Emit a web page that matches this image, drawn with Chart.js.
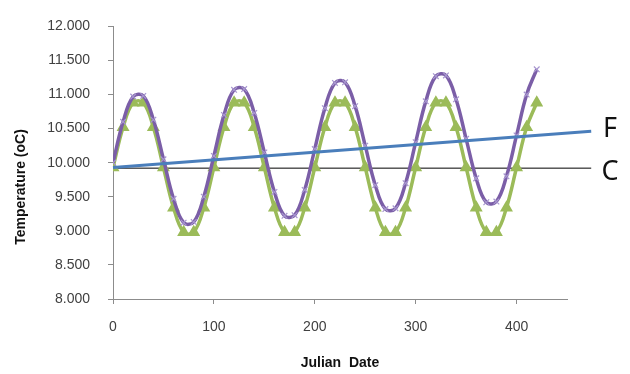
<!DOCTYPE html>
<html>
<head>
<meta charset="utf-8">
<script src="https://cdn.jsdelivr.net/npm/chart.js@4.4.1/dist/chart.umd.min.js"></script>
<style>
  html, body { margin: 0; padding: 0; background: #fff; }
  #wrap { width: 630px; height: 374px; position: relative; }
</style>
</head>
<body>
<div id="wrap"><canvas id="chart"></canvas></div>
<script>
// Julian dates of the samples
const days = [0, 10, 20, 30, 40, 50, 60, 70, 80, 90,
              100, 110, 120, 130, 140, 150, 160, 170, 180, 190,
              200, 210, 220, 230, 240, 250, 260, 270, 280, 290,
              300, 310, 320, 330, 340, 350, 360, 370, 380, 390,
              400, 410, 420];
// purple series (with warming trend)
const tempF = [10.00, 10.60, 10.97, 10.98, 10.63, 10.05, 9.47, 9.12, 9.13, 9.50,
               10.10, 10.70, 11.07, 11.08, 10.73, 10.15, 9.57, 9.22, 9.23, 9.60,
               10.20, 10.80, 11.17, 11.18, 10.83, 10.25, 9.67, 9.32, 9.33, 9.70,
               10.30, 10.90, 11.27, 11.28, 10.93, 10.35, 9.77, 9.42, 9.43, 9.80,
               10.40, 11.00, 11.37];
// green series (constant mean)
const tempC = [9.93, 10.52, 10.88, 10.88, 10.52, 9.93, 9.34, 8.98, 8.98, 9.34,
               9.93, 10.52, 10.88, 10.88, 10.52, 9.93, 9.34, 8.98, 8.98, 9.34,
               9.93, 10.52, 10.88, 10.88, 10.52, 9.93, 9.34, 8.98, 8.98, 9.34,
               9.93, 10.52, 10.88, 10.88, 10.52, 9.93, 9.34, 8.98, 8.98, 9.34,
               9.93, 10.52, 10.88];
// straight reference lines F and C
const lineDays = [0, 474];
const lineF = [9.93, 10.46];
const lineC = [9.92, 9.92];

const xTicks = [0, 100, 200, 300, 400];
const yTicks = [8, 8.5, 9, 9.5, 10, 10.5, 11, 11.5, 12];

const pts = (xs, ys) => xs.map((x, i) => ({ x: x, y: ys[i] }));

const labelPlugin = {
    id: 'sideLabels',
    afterDraw(chart) {
        const ctx = chart.ctx;
        const y = chart.scales.y;
        ctx.save();
        ctx.fillStyle = '#111';
        ctx.font = '27px "Noto Sans"';
        ctx.textAlign = 'center';
        ctx.textBaseline = 'middle';
        ctx.fillText('F', 610, y.getPixelForValue(lineF[1]) - 2);
        ctx.fillText('C', 610, y.getPixelForValue(lineC[1]) + 4);
        // y axis title
        ctx.font = 'bold 14px "Liberation Sans"';
        ctx.translate(21, 187);
        ctx.rotate(-Math.PI / 2);
        ctx.fillText('Temperature (oC)', 0, 0);
        ctx.restore();
    }
};

const tickColor = '#404040';
const axisColor = '#8c8c8c';

new Chart(document.getElementById('chart').getContext('2d'), {
    type: 'line',
    data: {
        datasets: [
            {
                label: 'F',
                data: pts(lineDays, lineF),
                borderColor: '#4a7ebb',
                borderWidth: 3,
                pointRadius: 0,
                clip: false
            },
            {
                label: 'purple',
                data: pts(days, tempF),
                borderColor: '#7b5ea7',
                borderWidth: 3.5,
                tension: 0.4,
                pointStyle: 'crossRot',
                pointRadius: 4,
                pointBorderWidth: 1.2,
                pointBorderColor: '#a796cf'
            },
            {
                label: 'green',
                data: pts(days, tempC),
                borderColor: '#9bbb59',
                borderWidth: 3.5,
                tension: 0.4,
                pointStyle: 'triangle',
                pointRadius: 4,
                pointBackgroundColor: '#9bbb59',
                pointBorderColor: '#9bbb59'
            },
            {
                label: 'C',
                data: pts(lineDays, lineC),
                borderColor: '#000',
                borderWidth: 1,
                pointRadius: 0,
                clip: false
            }
        ]
    },
    plugins: [labelPlugin],
    options: {
        responsive: true,
        maintainAspectRatio: false,
        animation: false,
        layout: { padding: { left: 0, right: 63, top: 15, bottom: 0 } },
        plugins: {
            legend: { display: false },
            tooltip: { enabled: false }
        },
        scales: {
            x: {
                type: 'linear',
                min: 0,
                max: 450,
                afterBuildTicks: s => { s.ticks = xTicks.map(v => ({ value: v })); },
                afterFit: s => { s.height = 75; },
                grid: { drawOnChartArea: false, tickLength: 5, color: axisColor },
                border: { color: axisColor },
                ticks: { padding: 15, color: tickColor, font: { family: 'Liberation Sans', size: 14 } },
                title: {
                    display: true,
                    text: 'Julian  Date',
                    color: '#111',
                    padding: { top: 0, bottom: 2 },
                    font: { family: 'Liberation Sans', size: 14, weight: 'bold' }
                }
            },
            y: {
                min: 8,
                max: 12,
                afterBuildTicks: s => { s.ticks = yTicks.map(v => ({ value: v })); },
                afterFit: s => { s.width = 113; },
                grid: { drawOnChartArea: false, tickLength: 5, color: axisColor },
                border: { color: axisColor },
                ticks: {
                    padding: 18,
                    color: tickColor,
                    font: { family: 'Liberation Sans', size: 14 },
                    callback: v => v.toFixed(3)
                }
            }
        }
    }
});
</script>
</body>
</html>
